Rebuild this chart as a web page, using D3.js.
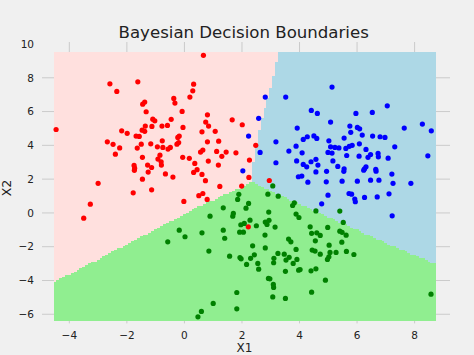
<!DOCTYPE html>
<html>
<head>
<meta charset="utf-8">
<script src="https://cdn.jsdelivr.net/npm/d3@7"></script>
<style>
    body { margin: 0; background: #f0f0f0; }
    text { font-family: "DejaVu Sans", sans-serif; fill: #222; }
</style>
</head>
<body>
<svg id="chart"></svg>
<script>
// scatter points per class, [x1, x2]
const redPts = [
    [-2.59,7.64],[-2.35,7.19],[-1.62,7.76],[0.32,7.62],[0.29,7.23],[0.19,6.86],[-0.37,6.78],[-0.33,6.50],
    [-1.38,6.56],[-1.45,6.44],[-1.33,5.99],[-0.08,6.01],[-1.10,5.55],[-1.03,5.45],[-0.46,5.54],[-4.46,4.94],
    [-2.18,4.86],[-1.99,4.71],[-1.36,5.14],[-1.47,4.90],[-1.38,4.83],[-1.13,5.12],[-0.78,5.14],[-0.59,5.18],
    [-0.05,5.06],[-1.68,4.55],[-1.57,4.53],[-0.18,4.55],[-0.23,4.47],[-2.68,4.21],[-2.48,4.06],[-2.25,3.85],
    [-2.40,3.48],[-1.64,3.84],[-1.50,4.07],[-1.17,4.09],[-0.94,3.91],[-0.75,3.88],[-0.57,3.78],[-0.49,3.88],
    [-0.77,4.27],[-0.26,4.07],[-0.20,4.17],[-0.85,3.42],[-1.46,3.29],[-0.92,3.19],[-0.06,3.29],[0.17,3.23],
    [-1.75,2.81],[-1.73,2.65],[-1.74,2.52],[-1.28,2.83],[-1.14,2.69],[-0.80,2.83],[-0.81,3.03],[-1.26,2.42],
    [-0.66,2.31],[-0.40,2.12],[-1.46,2.00],[0.32,2.40],[-3.00,1.75],[-1.78,1.19],[-1.14,1.37],[-0.02,0.68],
    [-3.27,0.52],[-3.50,-0.31],[0.66,9.33],[0.80,5.81],[0.74,5.38],[0.84,5.14],[1.66,5.51],[2.01,5.22],
    [0.61,4.80],[1.07,4.83],[0.80,4.21],[1.19,4.25],[0.64,3.72],[0.56,3.60],[1.12,3.64],[1.45,3.60],
    [1.30,3.35],[1.79,3.56],[2.48,4.00],[2.26,3.13],[0.44,2.56],[0.61,2.28],[0.73,1.91],[1.23,1.57],
    [0.64,1.15],[0.50,1.02],[0.79,0.80],[1.99,1.59],[2.24,2.10],[2.22,-0.82],[2.95,1.92],[0.36,2.93],
    [1.18,2.83],[0.83,3.07]
];
const bluePts = [
    [2.81,6.86],[3.52,6.86],[4.41,6.07],[4.62,5.89],[2.58,5.60],[3.92,5.02],[2.23,4.55],[4.13,4.35],
    [4.27,4.51],[4.50,4.56],[4.60,4.41],[5.13,7.45],[5.08,5.38],[5.96,5.89],[6.53,5.95],[7.05,6.34],
    [5.75,5.14],[6.01,5.06],[6.09,4.98],[5.78,4.77],[6.18,4.61],[6.54,4.55],[6.80,4.51],[6.97,4.47],
    [7.64,5.02],[8.27,5.26],[8.58,4.86],[5.55,4.43],[5.02,4.27],[5.08,3.91],[5.23,3.88],[5.37,3.85],
    [5.61,3.82],[5.73,3.94],[5.83,4.00],[6.08,4.09],[6.31,3.76],[7.31,3.91],[3.18,4.21],[3.88,3.95],
    [2.63,3.58],[3.63,3.66],[4.09,3.56],[4.40,3.03],[4.57,3.17],[4.64,2.83],[3.18,2.97],[3.90,3.08],
    [4.13,2.87],[4.25,2.73],[2.03,2.49],[4.57,2.43],[3.96,2.14],[4.08,2.18],[4.29,1.82],[4.94,2.46],
    [5.54,2.46],[6.23,2.53],[6.66,2.47],[7.21,2.30],[4.93,1.84],[5.48,1.88],[6.01,1.88],[6.47,1.94],
    [6.76,1.94],[7.25,1.75],[7.87,1.75],[4.99,1.05],[4.77,0.54],[5.72,1.15],[5.81,1.11],[5.92,0.82],
    [5.94,0.66],[6.26,0.92],[6.70,0.95],[7.11,1.13],[7.22,-0.17],[4.99,3.58],[5.13,3.54],[5.64,3.40],
    [6.07,3.36],[6.38,3.29],[6.47,3.46],[6.73,3.52],[6.74,3.32],[7.08,3.24],[5.16,3.08],[5.33,2.75],
    [6.31,2.73],[6.26,2.61],[5.55,2.61],[6.65,2.58],[8.46,3.38]
];
const greenPts = [
    [3.07,1.60],[2.90,1.11],[3.26,0.99],[1.89,1.10],[1.85,0.80],[2.23,0.56],[2.14,0.28],[1.35,0.30],
    [1.70,-0.03],[1.68,-0.19],[0.89,-0.19],[2.93,0.05],[2.94,-0.44],[2.81,-0.54],[2.87,-0.68],[3.82,0.60],
    [3.76,0.44],[3.88,-0.07],[3.98,-0.27],[4.57,0.12],[2.28,-0.43],[2.08,-0.62],[1.96,-0.70],[2.50,-0.76],
    [1.92,-1.14],[2.05,-1.14],[2.80,-1.31],[3.62,-1.55],[4.37,-0.82],[4.42,-1.21],[4.60,-1.18],[1.35,-1.02],
    [0.61,-1.18],[1.40,-1.50],[4.72,-1.33],[-0.58,-1.71],[2.37,-1.95],[2.81,-2.07],[0.85,-2.26],[1.57,-2.56],
    [1.93,-2.64],[1.97,-2.72],[2.43,-2.48],[2.30,-2.69],[2.55,-2.99],[2.58,-3.33],[2.16,-3.05],[3.25,-2.40],
    [3.47,-2.44],[3.53,-2.79],[3.11,-2.69],[3.10,-2.95],[2.92,-3.88],[2.97,-3.90],[3.09,-4.23],[3.10,-4.41],
    [3.07,-4.97],[3.51,-5.06],[1.82,-4.71],[1.82,-5.68],[1.00,-5.36],[0.59,-5.83],[0.47,-6.15],[3.15,-0.84],
    [-0.18,-1.02],[0.02,-1.41],[5.40,0.11],[5.52,-0.56],[4.98,-0.86],[5.40,-1.08],[5.48,-1.15],[5.62,-1.32],
    [4.55,-1.65],[5.47,-1.73],[5.03,-1.91],[4.44,-2.20],[4.54,-2.26],[4.72,-2.44],[5.06,-2.34],[5.02,-2.60],
    [4.97,-2.75],[5.27,-2.34],[5.63,-2.28],[5.89,-2.46],[3.70,-1.71],[3.88,-2.16],[3.64,-2.63],[3.91,-2.75],
    [3.78,-2.99],[3.97,-3.39],[4.02,-3.35],[3.51,-3.46],[4.40,-3.43],[4.57,-3.31],[4.90,-3.98],[4.42,-4.69],
    [8.57,-4.81]
];

// decision boundaries (x1, x2)
const redBlueEdge = [[3.3,10],[3.2,8.9],[3.05,7.7],[2.85,6.6],[2.7,5.6],[2.6,4.9],[2.5,4.0],[2.4,3.0],[2.35,1.85]];
const redGreenEdge = [[-5,-4.5],[0.5,0.4],[2.35,1.85]];
const blueGreenEdge = [[2.35,1.85],[3.5,0.95],[4.7,0.02],[6.0,-0.98],[7.3,-1.98],[9,-3.2]];

// prediction grid
const meshX = [-4.55, 8.7];
const meshY = [-6.35, 9.5];
const meshStep = 0.1;

const xTicks = [-4, -2, 0, 2, 4, 6, 8];
const yTicks = [-6, -4, -2, 0, 2, 4, 6, 8, 10];

const regionColors = {red: "#ffe0de", blue: "#add8e6", green: "#90ee90"};
const pointColors = {red: "#ff0000", blue: "#0000ff", green: "#008000"};

const width = 474, height = 355;
const x = d3.scaleLinear().domain([-4.95, 9.23]).range([42, 450]);
const y = d3.scaleLinear().domain([-6.54, 10.0]).range([323.4, 44]);

const svg = d3.select("#chart")
    .attr("width", width)
    .attr("height", height)
    .style("background", "#f0f0f0");

// grid
svg.append("g")
    .selectAll("line")
    .data(xTicks)
    .enter()
    .append("line")
    .attr("x1", function (d) { return x(d); })
    .attr("x2", function (d) { return x(d); })
    .attr("y1", y.range()[1] - 2)
    .attr("y2", y.range()[0])
    .attr("stroke", "#cbcbcb")
    .attr("stroke-width", 1);

svg.append("g")
    .selectAll("line")
    .data(yTicks.filter(function (d) { return d < 10; }))
    .enter()
    .append("line")
    .attr("x1", x.range()[0])
    .attr("x2", x.range()[1])
    .attr("y1", function (d) { return y(d); })
    .attr("y2", function (d) { return y(d); })
    .attr("stroke", "#cbcbcb")
    .attr("stroke-width", 1);

// region polygons from the edges
const redPoly = [[-5, 10]].concat(redBlueEdge, redGreenEdge.slice().reverse().slice(1));
const bluePoly = [[9, 10], [9, blueGreenEdge[blueGreenEdge.length - 1][1]]]
    .concat(blueGreenEdge.slice().reverse().slice(1), redBlueEdge.slice().reverse().slice(1));

function classify(px, py) {
    if (d3.polygonContains(redPoly, [px, py])) return "red";
    if (d3.polygonContains(bluePoly, [px, py])) return "blue";
    return "green";
}

// run-length merge each mesh row
const nx = Math.round((meshX[1] - meshX[0]) / meshStep);
const ny = Math.round((meshY[1] - meshY[0]) / meshStep);
const cells = [];
for (let j = 0; j < ny; j++) {
    const y0 = meshY[0] + j * meshStep;
    let start = 0;
    let cls = classify(meshX[0] + meshStep / 2, y0 + meshStep / 2);
    for (let i = 1; i <= nx; i++) {
        const c = i < nx ? classify(meshX[0] + (i + 0.5) * meshStep, y0 + meshStep / 2) : null;
        if (c !== cls) {
            cells.push({x0: meshX[0] + start * meshStep, x1: meshX[0] + i * meshStep, y0: y0, y1: y0 + meshStep, cls: cls});
            start = i;
            cls = c;
        }
    }
}

svg.append("g")
    .attr("shape-rendering", "crispEdges")
    .selectAll("rect")
    .data(cells)
    .enter()
    .append("rect")
    .attr("x", function (d) { return x(d.x0); })
    .attr("y", function (d) { return y(d.y1); })
    .attr("width", function (d) { return x(d.x1) - x(d.x0); })
    .attr("height", function (d) { return y(d.y0) - y(d.y1) + 0.5; })
    .style("fill", function (d) { return regionColors[d.cls]; });

// points
const groups = [["red", redPts], ["blue", bluePts], ["green", greenPts]];
groups.forEach(function (g) {
    svg.append("g")
        .selectAll("circle")
        .data(g[1])
        .enter()
        .append("circle")
        .attr("cx", function (d) { return x(d[0]); })
        .attr("cy", function (d) { return y(d[1]); })
        .attr("r", 2.6)
        .style("fill", pointColors[g[0]]);
});

// tick labels
svg.append("g")
    .selectAll("text")
    .data(xTicks)
    .enter()
    .append("text")
    .attr("x", function (d) { return x(d); })
    .attr("y", 338.5)
    .style("text-anchor", "middle")
    .style("font-size", "10.5px")
    .text(function (d) { return d < 0 ? "\u2212" + Math.abs(d) : d; });

svg.append("g")
    .selectAll("text")
    .data(yTicks)
    .enter()
    .append("text")
    .attr("x", 34)
    .attr("y", function (d) { return y(d); })
    .attr("dy", "0.36em")
    .style("text-anchor", "end")
    .style("font-size", "10.5px")
    .text(function (d) { return d < 0 ? "\u2212" + Math.abs(d) : d; });

// axis labels and title
svg.append("text")
    .attr("x", 244.5)
    .attr("y", 352)
    .style("text-anchor", "middle")
    .style("font-size", "12px")
    .text("X1");

svg.append("text")
    .attr("transform", "translate(10.7, 188) rotate(-90)")
    .style("text-anchor", "middle")
    .style("font-size", "12.5px")
    .text("X2");

svg.append("text")
    .attr("x", 243.7)
    .attr("y", 38.3)
    .style("text-anchor", "middle")
    .style("font-size", "16.6px")
    .text("Bayesian Decision Boundaries");
</script>
</body>
</html>
